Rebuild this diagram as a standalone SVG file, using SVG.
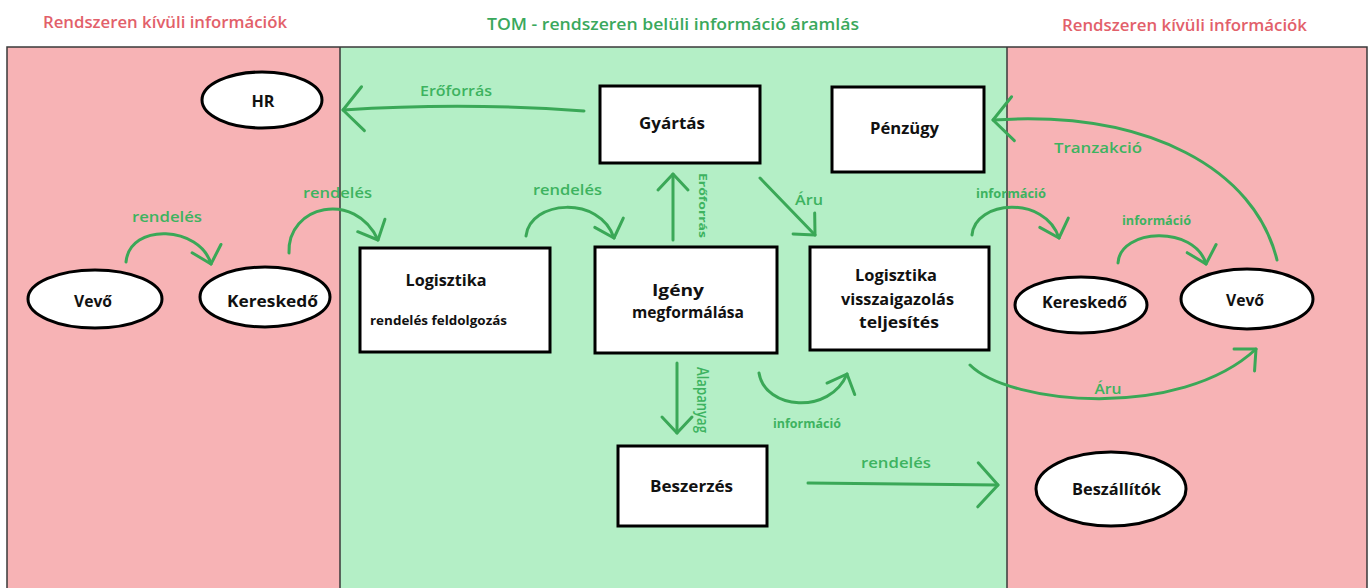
<svg xmlns="http://www.w3.org/2000/svg" width="1371" height="588" viewBox="0 0 1371 588">
<defs>
<style>
.title{font-family:"Open Sans","Liberation Sans",sans-serif;font-size:17px;font-weight:600;text-anchor:middle}
.tred{fill:#e2606a}
.tgreen{fill:#3aa85c}
.node rect,.node ellipse{fill:#fff;stroke:#000;stroke-width:3}
.nl{font-family:"Open Sans","Liberation Sans",sans-serif;font-weight:700;font-size:16px;fill:#111;text-anchor:middle}
.nls{font-size:12.5px}
.gl{font-family:"Open Sans","Liberation Sans",sans-serif;font-size:15px;font-weight:600;fill:#3db360;text-anchor:middle}
.gs{font-size:12px;font-weight:700}
.conn path{fill:none;stroke:#3aa857;stroke-width:3;stroke-linecap:round;stroke-linejoin:round}
</style>
<marker id="ah" markerUnits="userSpaceOnUse" viewBox="-20 -18 24 36" refX="0" refY="0" markerWidth="24" markerHeight="36" orient="auto" overflow="visible">
<path d="M-16,-15 L0,0 L-16,15" fill="none" stroke="#3aa857" stroke-width="3" stroke-linecap="round" stroke-linejoin="round"/>
</marker>
<marker id="ahl" markerUnits="userSpaceOnUse" viewBox="-30 -26 34 52" refX="0" refY="0" markerWidth="34" markerHeight="52" orient="auto" overflow="visible">
<path d="M-20,-22 L0,0 L-20,22" fill="none" stroke="#3aa857" stroke-width="3" stroke-linecap="round" stroke-linejoin="round"/>
</marker>
</defs>

<g id="background">
<rect x="0" y="0" width="1371" height="588" fill="#ffffff"/>
<rect x="7" y="47" width="333" height="545" fill="#f7b3b5"/>
<rect x="340" y="47" width="667" height="545" fill="#b4efc6"/>
<rect x="1007" y="47" width="360" height="545" fill="#f7b3b5"/>
<path d="M7,592 L7,47 L1367,47 L1367,592 M340,47 L340,592 M1007,47 L1007,592" fill="none" stroke="#3a3a3a" stroke-width="1.5"/>
</g>

<g id="titles">
<text class="title tred" x="165" y="28" textLength="244" lengthAdjust="spacingAndGlyphs">Rendszeren kívüli információk</text>
<text class="title tgreen" x="673" y="30" textLength="372" lengthAdjust="spacingAndGlyphs">TOM - rendszeren belüli információ áramlás</text>
<text class="title tred" x="1184.5" y="31" textLength="245" lengthAdjust="spacingAndGlyphs">Rendszeren kívüli információk</text>
</g>

<g id="connectors" class="conn">
<path id="c-eroforras" d="M584,111 Q465,102 343,110" marker-end="url(#ahl)"/>
<path id="c-vevo-ker" d="M126,262 C130,222 200,226 211,264" marker-end="url(#ah)"/>
<path id="c-ker-log" d="M289,253 C287,205 355,190 378,240" marker-end="url(#ah)"/>
<path id="c-log-igeny" d="M526,236 C530,200 600,195 614,238" marker-end="url(#ah)"/>
<path id="c-igeny-gyartas" d="M673,240 L673,174" marker-end="url(#ah)"/>
<path id="c-gyartas-log2" d="M760,178 L815,235" marker-end="url(#ah)"/>
<path id="c-log2-ker2" d="M972,235 C975,200 1045,195 1059,238" marker-end="url(#ah)"/>
<path id="c-ker2-vevo2" d="M1118,263 C1120,228 1195,225 1206,264" marker-end="url(#ah)"/>
<path id="c-tranzakcio" d="M1277,260 C1255,170 1150,110 993,120" marker-end="url(#ahl)"/>
<path id="c-aru2" d="M970,365 C1010,405 1180,420 1256,349" marker-end="url(#ah)"/>
<path id="c-info3" d="M759,373 C765,410 830,415 847,374" marker-end="url(#ah)"/>
<path id="c-alapanyag" d="M677,363 L677,433" marker-end="url(#ah)"/>
<path id="c-rendeles4" d="M808,483 L998,485" marker-end="url(#ahl)"/>
</g>

<g id="connector-labels">
<text class="gl" x="456" y="96" textLength="72" lengthAdjust="spacingAndGlyphs">Erőforrás</text>
<text class="gl" x="167" y="222" textLength="70" lengthAdjust="spacingAndGlyphs">rendelés</text>
<text class="gl" x="337.5" y="198" textLength="69" lengthAdjust="spacingAndGlyphs">rendelés</text>
<text class="gl" x="567.5" y="195" textLength="69" lengthAdjust="spacingAndGlyphs">rendelés</text>
<text class="gl" x="809" y="205" textLength="28" lengthAdjust="spacingAndGlyphs">Áru</text>
<text class="gl gs" x="1011" y="198" textLength="70" lengthAdjust="spacingAndGlyphs">információ</text>
<text class="gl gs" x="1156.5" y="225" textLength="69" lengthAdjust="spacingAndGlyphs">információ</text>
<text class="gl" x="1098" y="153" textLength="88" lengthAdjust="spacingAndGlyphs">Tranzakció</text>
<text class="gl" x="1108" y="394" textLength="27" lengthAdjust="spacingAndGlyphs">Áru</text>
<text class="gl gs" x="807" y="428" textLength="68" lengthAdjust="spacingAndGlyphs">információ</text>
<text class="gl" x="896" y="468" textLength="70" lengthAdjust="spacingAndGlyphs">rendelés</text>
<text class="gl gs" x="699" y="173" transform="rotate(90 699 173)" style="text-anchor:start;font-size:10.5px" textLength="65" lengthAdjust="spacingAndGlyphs">Erőforrás</text>
<text class="gl" x="697" y="367" transform="rotate(90 697 367)" style="text-anchor:start;font-size:16px" textLength="66" lengthAdjust="spacingAndGlyphs">Alapanyag</text>
</g>

<g id="n-hr" class="node">
<ellipse cx="262" cy="100" rx="60" ry="28"/>
<text class="nl" x="263" y="107" textLength="23" lengthAdjust="spacingAndGlyphs">HR</text>
</g>
<g id="n-gyartas" class="node">
<rect x="600" y="86" width="160" height="77"/>
<text class="nl" x="672" y="129" textLength="66" lengthAdjust="spacingAndGlyphs">Gyártás</text>
</g>
<g id="n-penzugy" class="node">
<rect x="832" y="87" width="152" height="85"/>
<text class="nl" x="904.5" y="134" textLength="69" lengthAdjust="spacingAndGlyphs">Pénzügy</text>
</g>
<g id="n-vevo1" class="node">
<ellipse cx="95" cy="299" rx="67" ry="29"/>
<text class="nl" x="93" y="307" textLength="38" lengthAdjust="spacingAndGlyphs">Vevő</text>
</g>
<g id="n-keresked1" class="node">
<ellipse cx="265" cy="297" rx="65" ry="30"/>
<text class="nl" x="272.5" y="307" textLength="91" lengthAdjust="spacingAndGlyphs">Kereskedő</text>
</g>
<g id="n-logisztika1" class="node">
<rect x="360" y="248" width="190" height="104"/>
<text class="nl" x="446" y="286" textLength="81" lengthAdjust="spacingAndGlyphs">Logisztika</text>
<text class="nl nls" x="438.5" y="325" textLength="137" lengthAdjust="spacingAndGlyphs">rendelés feldolgozás</text>
</g>
<g id="n-igeny" class="node">
<rect x="595" y="247" width="182" height="106"/>
<text class="nl" x="678" y="296" textLength="52" lengthAdjust="spacingAndGlyphs">Igény</text>
<text class="nl" x="688" y="318" textLength="112" lengthAdjust="spacingAndGlyphs">megformálása</text>
</g>
<g id="n-logisztika2" class="node">
<rect x="810" y="247" width="179" height="103"/>
<text class="nl" x="896" y="281" textLength="82" lengthAdjust="spacingAndGlyphs">Logisztika</text>
<text class="nl" x="897.5" y="305" textLength="113" lengthAdjust="spacingAndGlyphs">visszaigazolás</text>
<text class="nl" x="899" y="328" textLength="80" lengthAdjust="spacingAndGlyphs">teljesítés</text>
</g>
<g id="n-kereskedo2" class="node">
<ellipse cx="1081" cy="305" rx="66" ry="28"/>
<text class="nl" x="1084.5" y="308" textLength="85" lengthAdjust="spacingAndGlyphs">Kereskedő</text>
</g>
<g id="n-vevo2" class="node">
<ellipse cx="1247" cy="299" rx="66" ry="30"/>
<text class="nl" x="1245" y="306" textLength="38" lengthAdjust="spacingAndGlyphs">Vevő</text>
</g>
<g id="n-beszerzes" class="node">
<rect x="618" y="446" width="149" height="80"/>
<text class="nl" x="691.5" y="492" textLength="83" lengthAdjust="spacingAndGlyphs">Beszerzés</text>
</g>
<g id="n-beszallitok" class="node">
<ellipse cx="1111" cy="489" rx="75" ry="37"/>
<text class="nl" x="1116.5" y="495" textLength="89" lengthAdjust="spacingAndGlyphs">Beszállítók</text>
</g>
</svg>
